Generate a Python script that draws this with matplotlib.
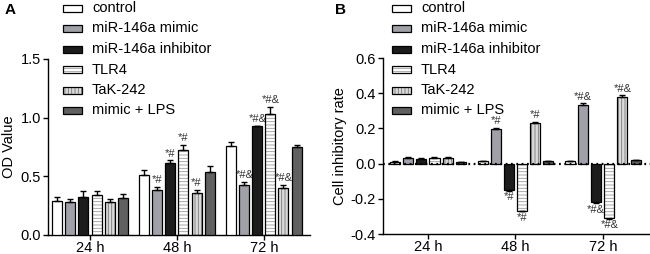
import matplotlib
matplotlib.use('Agg')
import matplotlib.pyplot as plt
from matplotlib.patches import Rectangle
import numpy as np

plt.rcParams['font.family'] = ['Liberation Sans', 'DejaVu Sans']
plt.rcParams['hatch.linewidth'] = 0.6

# ---- data ----
times = ['24 h', '48 h', '72 h']
groups = ['control', 'miR-146a mimic', 'miR-146a inhibitor', 'TLR4', 'TaK-242', 'mimic + LPS']

od_mean = [
    [0.29, 0.51, 0.76],
    [0.285, 0.38, 0.43],
    [0.32, 0.615, 0.925],
    [0.345, 0.725, 1.03],
    [0.285, 0.355, 0.40],
    [0.315, 0.535, 0.75],
]
od_err = [
    [0.035, 0.045, 0.03],
    [0.025, 0.03, 0.025],
    [0.055, 0.02, 0.006],
    [0.03, 0.045, 0.065],
    [0.02, 0.03, 0.025],
    [0.035, 0.055, 0.02],
]
od_marks = [
    ['', '', ''],
    ['', '*#', '*#&'],
    ['', '*#', '*#&'],
    ['', '*#', '*#&'],
    ['', '*#', '*#&'],
    ['', '', ''],
]

inh_mean = [
    [0.01, 0.012, 0.013],
    [0.032, 0.198, 0.335],
    [0.027, -0.15, -0.218],
    [0.032, -0.267, -0.308],
    [0.034, 0.232, 0.38],
    [0.007, 0.013, 0.018],
]
inh_err = [
    [0.003, 0.003, 0.003],
    [0.004, 0.005, 0.007],
    [0.004, 0.005, 0.007],
    [0.004, 0.004, 0.007],
    [0.004, 0.006, 0.008],
    [0.003, 0.003, 0.004],
]
inh_marks = [
    ['', '', ''],
    ['', '*#', '*#&'],
    ['', '*#', '*#&'],
    ['', '*#', '*#&'],
    ['', '*#', '*#&'],
    ['', '', ''],
]

# ---- styles ----
faces = ['white', '#a0a0a8', '#1c1c1c', 'white', '#dadada', '#606060']
hatches = [None, None, None, '-----', '|||||', None]
hatch_cols = [None, None, None, '#999999', '#777777', None]

pitch = 0.15
width = 0.115


def draw_bars(ax, means, errs, marks, pad):
    x = np.arange(len(times))
    for i in range(len(groups)):
        xi = x + (i - 2.5) * pitch
        m = np.array(means[i])
        e = np.array(errs[i])
        if hatches[i]:
            ax.bar(xi, m, width, color=faces[i], edgecolor=hatch_cols[i],
                   hatch=hatches[i], linewidth=0, zorder=2)
            ax.bar(xi, m, width, color='none', edgecolor='black',
                   linewidth=0.9, zorder=3)
        else:
            ax.bar(xi, m, width, color=faces[i], edgecolor='black',
                   linewidth=0.9, zorder=3)
        lo = np.where(m < 0, e, 0)
        hi = np.where(m >= 0, e, 0)
        ax.errorbar(xi, m, yerr=[lo, hi], fmt='none', ecolor='black',
                    elinewidth=1, capsize=2.5, capthick=1, zorder=4)
        for j in range(len(times)):
            if marks[i][j]:
                if m[j] >= 0:
                    ax.text(xi[j], m[j] + e[j] + pad, marks[i][j], ha='center',
                            va='bottom', fontsize=8, color='#333333')
                else:
                    ax.text(xi[j], m[j] - e[j] - pad, marks[i][j], ha='center',
                            va='top', fontsize=8, color='#333333')
    ax.set_xticks(x)
    ax.set_xticklabels(times)
    ax.spines['top'].set_visible(False)
    ax.spines['right'].set_visible(False)
    ax.tick_params(axis='both', labelsize=10.5, width=1, length=3.5)
    ax.tick_params(axis='x', pad=1)
    ax.tick_params(axis='y', pad=1.5)
    ax.spines['left'].set_linewidth(1)
    ax.spines['bottom'].set_linewidth(1)


fig = plt.figure(figsize=(6.5, 2.54), dpi=100)

axA = fig.add_axes([48 / 650, 1 - 235 / 254, (310 - 48) / 650, (235 - 59) / 254])
draw_bars(axA, od_mean, od_err, od_marks, 0.015)
axA.set_ylim(0, 1.5)
axA.set_yticks([0, 0.5, 1.0, 1.5])
axA.set_yticklabels(['0.0', '0.5', '1.0', '1.5'])
axA.set_xlim(-0.483, 2.53)
axA.set_ylabel('OD Value', fontsize=10.5, labelpad=3)

axB = fig.add_axes([383 / 650, 1 - 234 / 254, (650 - 383) / 650, (234 - 58) / 254])
draw_bars(axB, inh_mean, inh_err, inh_marks, 0.008)
axB.axhline(0, color='black', lw=1.6, ls=(0, (0.8, 1.6)), zorder=5)
axB.set_ylim(-0.4, 0.6)
axB.set_yticks([-0.4, -0.2, 0, 0.2, 0.4, 0.6])
axB.set_yticklabels(['-0.4', '-0.2', '0.0', '0.2', '0.4', '0.6'])
axB.set_xlim(-0.514, 2.54)
axB.set_ylabel('Cell inhibitory rate', fontsize=10.5, labelpad=3)

# panel letters
fig.text(5 / 650, 1 - 10 / 254, 'A', fontsize=11, fontweight='bold', va='center')
fig.text(335 / 650, 1 - 10 / 254, 'B', fontsize=11, fontweight='bold', va='center')

# legends
row_y = [8, 28.5, 49, 69.5, 90, 110.5]
for x0 in (63, 392):
    for i, name in enumerate(groups):
        yc = row_y[i]
        if hatches[i]:
            fig.patches.append(Rectangle((x0 / 650, 1 - (yc + 3.5) / 254), 19 / 650, 7 / 254,
                                         facecolor=faces[i], edgecolor=hatch_cols[i], hatch=hatches[i],
                                         linewidth=0, transform=fig.transFigure, figure=fig))
            fig.patches.append(Rectangle((x0 / 650, 1 - (yc + 3.5) / 254), 19 / 650, 7 / 254,
                                         facecolor='none', edgecolor='black',
                                         linewidth=0.9, transform=fig.transFigure, figure=fig))
        else:
            fig.patches.append(Rectangle((x0 / 650, 1 - (yc + 3.5) / 254), 19 / 650, 7 / 254,
                                         facecolor=faces[i], edgecolor='black',
                                         linewidth=0.9, transform=fig.transFigure, figure=fig))
        fig.text((x0 + 29) / 650, 1 - yc / 254, name, fontsize=10.5, va='center')

fig.savefig('out.png', dpi=100)
